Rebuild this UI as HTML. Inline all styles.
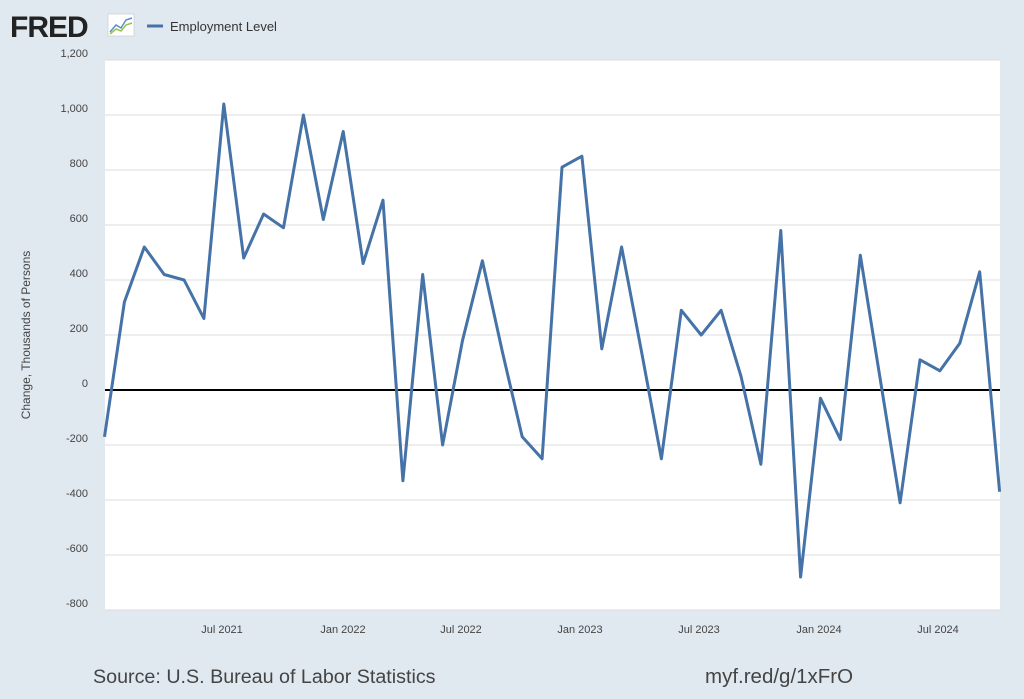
<!DOCTYPE html>
<html><head><meta charset="utf-8"><style>
body{margin:0;width:1024px;height:694px;background:#e1e9f0;font-family:"Liberation Sans",sans-serif;overflow:hidden}
</style></head><body>
<svg id="s" width="1024" height="694" xmlns="http://www.w3.org/2000/svg">
<rect x="0" y="0" width="1024" height="694" fill="#e1e9f0"/>
<text x="10" y="37" font-size="30" font-weight="bold" fill="#222" font-family="Liberation Sans" letter-spacing="-1">FRED</text>
<rect x="108" y="14" width="26" height="22" fill="#fff" stroke="#bbb" stroke-width="0.5"/>
<polyline points="110,32 116,25 121,28 126,20 132,18" fill="none" stroke="#5b8fc7" stroke-width="1.5"/>
<polyline points="110,34 116,29 121,31 126,25 132,23" fill="none" stroke="#9ac24a" stroke-width="1.5"/>
<line x1="147" y1="26" x2="163" y2="26" stroke="#4572a7" stroke-width="3"/>
<text x="170" y="31" font-size="13" fill="#333">Employment Level</text>
<rect x="105" y="60" width="895" height="550" fill="#fff"/>
<g id="grid" stroke="#dcdcdc" stroke-width="1"></g>
<g id="lab" font-size="11" fill="#444" text-anchor="end"></g>
<line x1="105" y1="390" x2="1000" y2="390" stroke="#000" stroke-width="2"/>
<polyline id="p" fill="none" stroke="#4572a7" stroke-width="3" stroke-linejoin="round"/>
<g font-size="11" fill="#444" text-anchor="middle">
<text x="222" y="633">Jul 2021</text><text x="343" y="633">Jan 2022</text><text x="461" y="633">Jul 2022</text>
<text x="580" y="633">Jan 2023</text><text x="699" y="633">Jul 2023</text><text x="819" y="633">Jan 2024</text><text x="938" y="633">Jul 2024</text>
</g>
<text transform="translate(30,335) rotate(-90)" font-size="12" fill="#444" text-anchor="middle">Change, Thousands of Persons</text>
<text x="93" y="683" font-size="19.7" fill="#444">Source: U.S. Bureau of Labor Statistics</text>
<text x="705" y="683" font-size="20.5" fill="#444">myf.red/g/1xFrO</text>
</svg>
<script>
var ns="http://www.w3.org/2000/svg",g=document.getElementById('grid'),l=document.getElementById('lab');
for(var v=-800;v<=1200;v+=200){var y=390-v*0.275;
if(v!=0){var ln=document.createElementNS(ns,'line');ln.setAttribute('x1',105);ln.setAttribute('x2',1000);ln.setAttribute('y1',y);ln.setAttribute('y2',y);g.appendChild(ln);}
var t=document.createElementNS(ns,'text');t.setAttribute('x',88);t.setAttribute('y',y-3);t.textContent=v.toLocaleString('en-US');l.appendChild(t);}
var d=[-170,320,520,420,400,260,1040,480,640,590,1000,620,940,460,690,-330,420,-200,180,470,140,-170,-250,810,850,150,520,140,-250,290,200,290,50,-270,580,-680,-30,-180,490,40,-410,110,70,170,430,-370];
var p=d.map(function(v,i){return (104.5+i*19.89).toFixed(1)+','+(390-v*0.275).toFixed(1)}).join(' ');
document.getElementById('p').setAttribute('points',p);
</script>
</body></html>
